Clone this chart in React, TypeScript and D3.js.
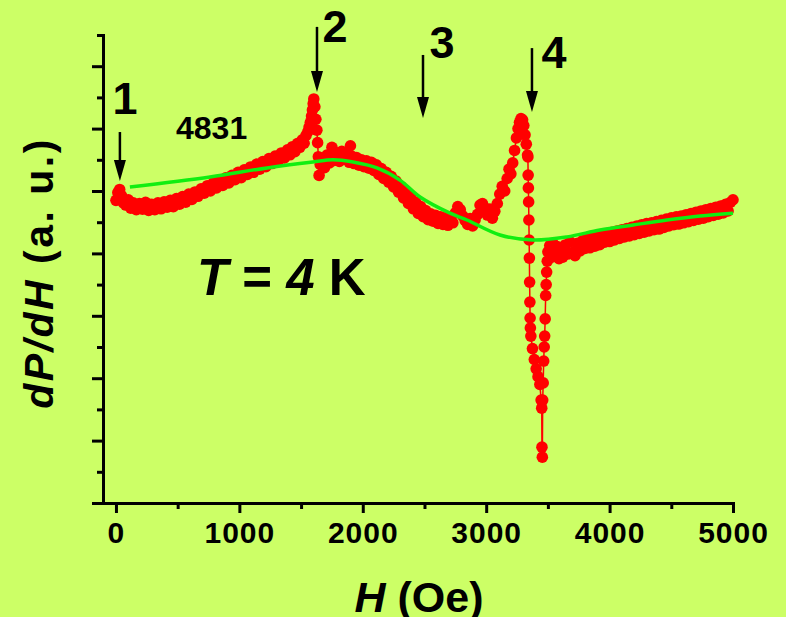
import React, { useEffect, useRef } from "react";
import * as d3 from "d3";

// measured sweep, H in Oe, signal in arbitrary units
const lowField: [number, number][] = [
  [0, 9.7], [15, 9.95], [30, 10.05], [45, 9.85], [60, 9.62], [80, 9.55], [100, 9.72], [120, 9.45],
  [140, 9.62], [165, 9.4], [190, 9.6], [215, 9.42], [240, 9.64], [265, 9.38], [290, 9.57], [315, 9.4],
  [340, 9.62], [365, 9.43], [390, 9.65], [415, 9.48], [440, 9.7], [465, 9.5], [490, 9.76], [515, 9.58],
  [540, 9.82], [565, 9.64], [590, 9.9], [615, 9.73], [640, 9.97], [665, 9.83], [690, 10.07],
];

const riseToPeak2: [number, number][] = [
  [715, 9.93], [740, 10.17], [765, 10.0], [790, 10.27], [815, 10.1], [840, 10.34], [865, 10.18],
  [890, 10.42], [915, 10.26], [940, 10.5], [965, 10.36], [990, 10.6], [1015, 10.43], [1040, 10.68],
  [1065, 10.53], [1090, 10.77], [1115, 10.6], [1140, 10.86], [1165, 10.7], [1190, 10.94], [1215, 10.78],
  [1240, 11.04], [1265, 10.88], [1290, 11.12], [1315, 10.98], [1340, 11.22], [1365, 11.06], [1390, 11.32],
  [1410, 11.16], [1430, 11.42], [1450, 11.26], [1470, 11.52], [1490, 11.4], [1510, 11.64], [1525, 11.53],
  [1540, 11.78], [1555, 11.9], [1565, 12.05], [1575, 12.2], [1585, 12.4], [1592, 12.6], [1598, 12.8],
  [1603, 12.95], [1612, 12.7], [1620, 12.3], [1628, 11.95], [1634, 11.55], [1640, 11.1], [1646, 10.5],
];

const midField: [number, number][] = [
  [1655, 10.85], [1670, 11.05], [1690, 10.75], [1710, 11.15], [1730, 10.9], [1750, 11.4], [1770, 10.98],
  [1790, 11.22], [1810, 10.95], [1830, 11.27], [1850, 11.02], [1870, 11.17], [1890, 10.92], [1900, 11.45],
  [1910, 11.12], [1930, 10.88], [1950, 11.07], [1970, 10.83], [1990, 11.0], [2010, 10.78], [2030, 10.97],
  [2050, 10.73], [2070, 10.92], [2090, 10.66], [2110, 10.84], [2130, 10.53], [2150, 10.72], [2170, 10.4],
  [2190, 10.6], [2210, 10.28], [2230, 10.47], [2250, 10.13], [2270, 10.32], [2290, 9.96], [2310, 10.14],
  [2330, 9.78], [2350, 9.97], [2370, 9.6], [2390, 9.8], [2410, 9.43], [2430, 9.64], [2450, 9.28],
  [2470, 9.5], [2490, 9.18], [2510, 9.37], [2530, 9.08], [2550, 9.27], [2570, 9.03], [2590, 9.22],
  [2610, 8.96], [2630, 9.17], [2650, 8.93], [2670, 9.14], [2690, 8.9], [2710, 9.12], [2730, 8.98],
  [2750, 9.3], [2770, 9.5], [2790, 9.4], [2810, 9.2], [2830, 9.05], [2850, 8.93], [2870, 9.12],
  [2890, 8.88], [2910, 9.07], [2930, 9.25], [2950, 9.55], [2970, 9.6], [2990, 9.45], [3010, 9.23],
  [3030, 9.42], [3050, 9.13], [3070, 9.35], [3090, 9.6], [3110, 9.9], [3130, 10.15], [3150, 10.0],
  [3170, 10.4], [3185, 10.7], [3200, 10.55], [3215, 10.9], [3230, 11.3], [3245, 11.7], [3258, 12.0],
  [3270, 12.2], [3282, 12.32], [3295, 12.28], [3305, 12.1], [3315, 11.8], [3325, 11.5], [3335, 11.15],
];

const resonance4: [number, number][] = [
  [3338, 11.09], [3340, 10.51], [3342, 10.1], [3344, 9.65], [3346, 9.07], [3348, 8.43], [3350, 7.85],
  [3352, 7.08], [3354, 6.44], [3356, 5.93], [3358, 5.61], [3362, 5.35], [3375, 4.95], [3390, 4.6],
  [3405, 4.3], [3420, 4.05], [3435, 3.8], [3445, 3.3], [3450, 3.04], [3452, 1.79], [3455, 1.47],
  [3458, 3.3], [3462, 3.85], [3466, 4.55], [3470, 5.0], [3474, 5.35], [3478, 5.9], [3482, 6.65],
  [3486, 7.0], [3490, 7.4], [3495, 7.75], [3500, 8.05],
];

const highField: [number, number][] = [
  [3515, 8.25], [3530, 7.88], [3545, 8.3], [3560, 7.93], [3575, 8.22], [3590, 7.83], [3605, 8.17],
  [3620, 7.88], [3640, 8.27], [3660, 7.98], [3680, 8.37], [3700, 8.03], [3720, 7.93], [3740, 8.32],
  [3760, 8.08], [3780, 8.4], [3800, 8.16], [3820, 8.47], [3840, 8.18], [3860, 8.52], [3880, 8.23],
  [3900, 8.54], [3920, 8.28], [3940, 8.6], [3960, 8.36], [3980, 8.64], [4000, 8.38], [4020, 8.68],
  [4040, 8.43], [4060, 8.72], [4080, 8.48], [4100, 8.76], [4120, 8.53], [4140, 8.8], [4160, 8.56],
  [4180, 8.84], [4200, 8.6], [4220, 8.88], [4240, 8.64], [4260, 8.92], [4280, 8.68], [4300, 8.96],
  [4320, 8.72], [4340, 8.98], [4360, 8.76], [4380, 9.02], [4400, 8.78], [4420, 9.06], [4440, 8.83],
  [4460, 9.1], [4480, 8.88], [4500, 9.14], [4520, 8.92], [4540, 9.17], [4560, 8.94], [4580, 9.2],
  [4600, 8.98], [4620, 9.24], [4640, 9.02], [4660, 9.28], [4680, 9.06], [4700, 9.32], [4720, 9.1],
  [4740, 9.36], [4760, 9.13], [4780, 9.4], [4800, 9.18], [4820, 9.44], [4840, 9.22], [4860, 9.48],
  [4880, 9.26], [4900, 9.52], [4920, 9.3], [4940, 9.57], [4960, 9.36], [4980, 9.64], [5000, 9.72],
];

// smooth background fit (green)
const fitOe = [113, 762, 1224, 1596, 1758, 1921, 2115, 2301, 2464, 2707, 2844, 3112, 3379, 3655, 3922, 4190, 4465, 4733, 5000];
const fitAU = [10.13, 10.45, 10.74, 10.93, 11.0, 10.93, 10.74, 10.35, 9.81, 9.29, 9.07, 8.59, 8.43, 8.53, 8.75, 8.91, 9.07, 9.2, 9.29];

const xMajorTicks = [0, 1000, 2000, 3000, 4000, 5000];
const xMinorTicks = [500, 1500, 2500, 3500, 4500];
const yMajorTicks = [0, 2, 4, 6, 8, 10, 12, 14];
const yMinorTicks = [1, 3, 5, 7, 9, 11, 13, 15];

// numbered arrows
const markerNames = ["1", "2", "3", "4"];
const markerOe = [32, 1629, 2488, 3371];
const markerTopAU = [11.89, 15.26, 14.36, 14.58];
const markerTipAU = [10.32, 13.17, 12.34, 12.53];
const markerLabelOe = [73, 1775, 2642, 3550];
const markerLabelAU = [12.47, 14.78, 14.26, 13.94];

const W = 786, H = 617;
const FONT = "'Liberation Sans', Arial, Helvetica, sans-serif";

export default function App() {
  const svgRef = useRef<SVGSVGElement>(null);

  useEffect(() => {
    const svg = d3.select(svgRef.current);
    svg.selectAll("*").remove();

    const x = d3.scaleLinear().domain([-105, 5000]).range([103, 733]);
    const y = d3.scaleLinear().domain([0, 15]).range([503, 35]);

    svg.append("rect").attr("width", W).attr("height", H).attr("fill", "#ccff66");

    const points = [...lowField, ...riseToPeak2, ...midField, ...resonance4, ...highField];

    // red trace
    svg.append("path")
      .datum(points)
      .attr("fill", "none")
      .attr("stroke", "#ff0000")
      .attr("stroke-width", 1.5)
      .attr("d", d3.line<[number, number]>().x(d => x(d[0])).y(d => y(d[1])));

    svg.append("g")
      .selectAll("circle")
      .data(points)
      .join("circle")
      .attr("cx", d => x(d[0]))
      .attr("cy", d => y(d[1]))
      .attr("r", 5.8)
      .attr("fill", "#ff0000");

    // green fit
    svg.append("path")
      .datum(fitOe.map((h, i) => [h, fitAU[i]] as [number, number]))
      .attr("fill", "none")
      .attr("stroke", "#11ee11")
      .attr("stroke-width", 3.5)
      .attr("d", d3.line<[number, number]>().x(d => x(d[0])).y(d => y(d[1])).curve(d3.curveCatmullRom));

    // axes
    const styleAxis = (g: any) => {
      g.selectAll("path, line").attr("stroke", "#000").attr("stroke-width", 3);
      g.selectAll("path").attr("stroke-linecap", "square");
    };

    const gx = svg.append("g").attr("transform", "translate(0,503)");
    gx.call(d3.axisBottom(x).tickValues(xMinorTicks).tickSize(6).tickSizeOuter(0).tickFormat(() => ""));
    gx.select(".domain").remove();
    const gx2 = svg.append("g").attr("transform", "translate(0,503)");
    gx2.call(d3.axisBottom(x).tickValues(xMajorTicks).tickSize(10).tickSizeOuter(0).tickPadding(9).tickFormat(d3.format("d")));
    styleAxis(gx);
    styleAxis(gx2);
    gx2.selectAll("text")
      .attr("font-family", FONT)
      .attr("font-weight", "bold")
      .attr("font-size", 30)
      .attr("letter-spacing", 1)
      .attr("fill", "#000");

    const gy = svg.append("g").attr("transform", "translate(103,0)");
    gy.call(d3.axisLeft(y).tickValues(yMinorTicks).tickSize(6).tickSizeOuter(0).tickFormat(() => ""));
    gy.select(".domain").remove();
    const gy2 = svg.append("g").attr("transform", "translate(103,0)");
    gy2.call(d3.axisLeft(y).tickValues(yMajorTicks).tickSize(11).tickSizeOuter(0).tickFormat(() => ""));
    styleAxis(gy);
    styleAxis(gy2);

    // axis titles
    const xt = svg.append("text")
      .attr("x", 419).attr("y", 612)
      .attr("text-anchor", "middle")
      .attr("font-family", FONT).attr("font-weight", "bold").attr("font-size", 43);
    xt.append("tspan").attr("font-style", "italic").text("H");
    xt.append("tspan").text(" (Oe)");

    const yt = svg.append("text")
      .attr("transform", "translate(53,273) rotate(-90)")
      .attr("text-anchor", "middle")
      .attr("font-family", FONT).attr("font-weight", "bold").attr("font-size", 41)
      .attr("letter-spacing", 2.5);
    yt.append("tspan").attr("font-style", "italic").text("dP/dH");
    yt.append("tspan").text(" (a. u.)");

    // annotations
    const tk = svg.append("text")
      .attr("x", 197).attr("y", 295)
      .attr("font-family", FONT).attr("font-weight", "bold").attr("font-size", 51);
    tk.append("tspan").attr("font-style", "italic").text("T");
    tk.append("tspan").text(" = ");
    tk.append("tspan").attr("font-style", "italic").text("4");
    tk.append("tspan").text(" K");

    svg.append("text")
      .attr("x", 176).attr("y", 139)
      .attr("font-family", FONT).attr("font-weight", "bold").attr("font-size", 32)
      .text("4831");

    markerNames.forEach((name, i) => {
      const ax = x(markerOe[i]);
      const top = y(markerTopAU[i]);
      const tip = y(markerTipAU[i]);
      svg.append("line")
        .attr("x1", ax).attr("x2", ax).attr("y1", top).attr("y2", tip - 12)
        .attr("stroke", "#000").attr("stroke-width", 2.5);
      svg.append("path")
        .attr("d", `M${ax - 6},${tip - 21} L${ax + 6},${tip - 21} L${ax},${tip} Z`)
        .attr("fill", "#000");
      svg.append("text")
        .attr("x", x(markerLabelOe[i])).attr("y", y(markerLabelAU[i]))
        .attr("text-anchor", "middle")
        .attr("font-family", FONT).attr("font-weight", "bold").attr("font-size", 45)
        .text(name);
    });
  }, []);

  return (
    <svg
      ref={svgRef}
      width={W}
      height={H}
      style={{ position: "absolute", left: 0, top: 0, display: "block" }}
    />
  );
}
